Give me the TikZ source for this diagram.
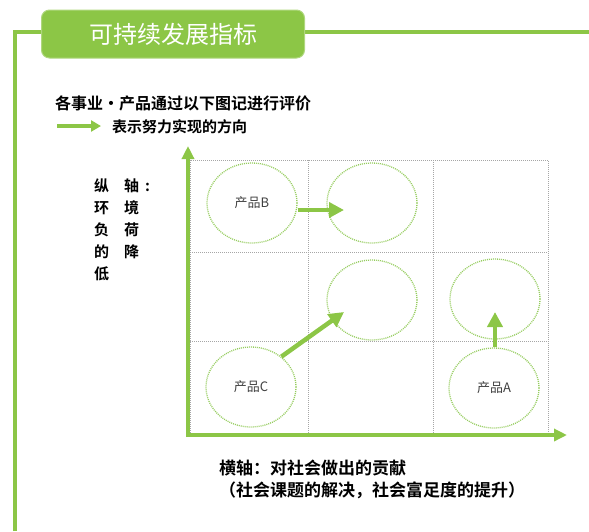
\documentclass[tikz,border=0pt]{standalone}
\usepackage{fontspec}
\setmainfont{Noto Sans CJK SC}
\newfontfamily\cjkbold{Noto Sans CJK SC Bold}
\usepackage{xcolor}
\usetikzlibrary{arrows.meta,positioning,shapes.geometric}
\definecolor{leaf}{RGB}{140,198,70}
\definecolor{leafdot}{RGB}{150,204,95}

\begin{document}
\begin{tikzpicture}[x=1pt, y=-1pt]
        % Define styles
        \tikzset{
            frame/.style={leaf, line width=3.5pt},
            titlebox/.style={rectangle, rounded corners=8pt, fill=leaf, draw=leaf!70!white, line width=1pt, minimum width=263pt, minimum height=48pt, text=white, font=\fontsize{24}{26}\selectfont},
            headtext/.style={font=\cjkbold\fontsize{16}{18}\selectfont, anchor=west, inner sep=0pt},
            cell/.style={gray!70, line width=0.6pt, dash pattern=on 1pt off 1pt},
            spot/.style={ellipse, draw=leafdot, line width=1.3pt, dash pattern=on 1pt off 1pt, minimum width=90pt, minimum height=80pt, inner sep=0pt, font=\fontsize{13}{15}\selectfont, text=black!75},
            axis/.style={leaf, line width=4pt, -{Triangle[length=13pt, width=12pt]}},
            arrow/.style={leaf, line width=4.5pt, -{Triangle[length=15pt, width=15pt]}}
        }
        \useasboundingbox (0,0) rectangle (589,531);

        % Frame and title
        \draw [frame] (15,531) -- (15,32) -- (589,32);
        \node [titlebox] (title) at (173,34) {可持续发展指标};

        % Legend
        \node [headtext] (intro) at (55,103) {各事业·产品通过以下图记进行评价};
        \coordinate (lgs) at (57,126);
        \coordinate (lge) at (101,126);
        \draw [leaf, line width=3.5pt, -{Triangle[length=10pt, width=11pt]}] (lgs) -- (lge);
        \node [headtext, font=\cjkbold\fontsize{15}{17}\selectfont] (legend) at (112,127) {表示努力实现的方向};

        % Grid
        \draw [cell] (190,160) rectangle (548,435);
        \draw [cell] (308,160) -- (308,435);
        \draw [cell] (433,160) -- (433,435);
        \draw [cell] (190,252) -- (548,252);
        \draw [cell] (190,341) -- (548,341);

        % Axes
        \coordinate (O) at (188,435);
        \coordinate (ytop) at (188,146);
        \coordinate (xend) at (567,435);
        \draw [axis] ([yshift=-2pt]O) -- (ytop);
        \draw [axis] ([xshift=-2pt]O) -- (xend);

        % Create nodes
        \node [spot] (prodB) at (252,203) {产品B};
        \node [spot] (goalB) at (372,203) {};
        \node [spot] (goalC) at (372,300) {};
        \node [spot] (goalA) at (495,299) {};
        \node [spot] (prodC) at (251,387) {产品C};
        \node [spot] (prodA) at (494,388) {产品A};

        % Create arrows
        \coordinate (tipB) at (344,210);
        \coordinate (tipC) at (344,312);
        \coordinate (tipA) at (495,312);
        \draw [arrow] (prodB.east |- tipB) -- (tipB);
        \draw [arrow] (prodC.45) -- (tipC);
        \draw [arrow] (prodA.north -| tipA) -- (tipA);

        % Axis labels
        \node [font=\cjkbold\fontsize{15}{22}\selectfont, inner sep=0pt, anchor=north west] (ylabel) at (94,176)
            {\begin{tabular}{@{}l@{\hspace{15pt}}l@{\hspace{6pt}}l@{}}
             纵 & 轴 & : \\ 环 & 境 & \\ 负 & 荷 & \\ 的 & 降 & \\ 低 & & \end{tabular}};
        \node [headtext, font=\cjkbold\fontsize{17}{19}\selectfont, anchor=north west] (xlabel) at (219,460) {横轴：对社会做出的贡献};
        \node [headtext, font=\cjkbold\fontsize{17}{19}\selectfont, anchor=north west] (xnote) at (219,482) {（社会课题的解决，社会富足度的提升）};
    \end{tikzpicture}
\end{document}
